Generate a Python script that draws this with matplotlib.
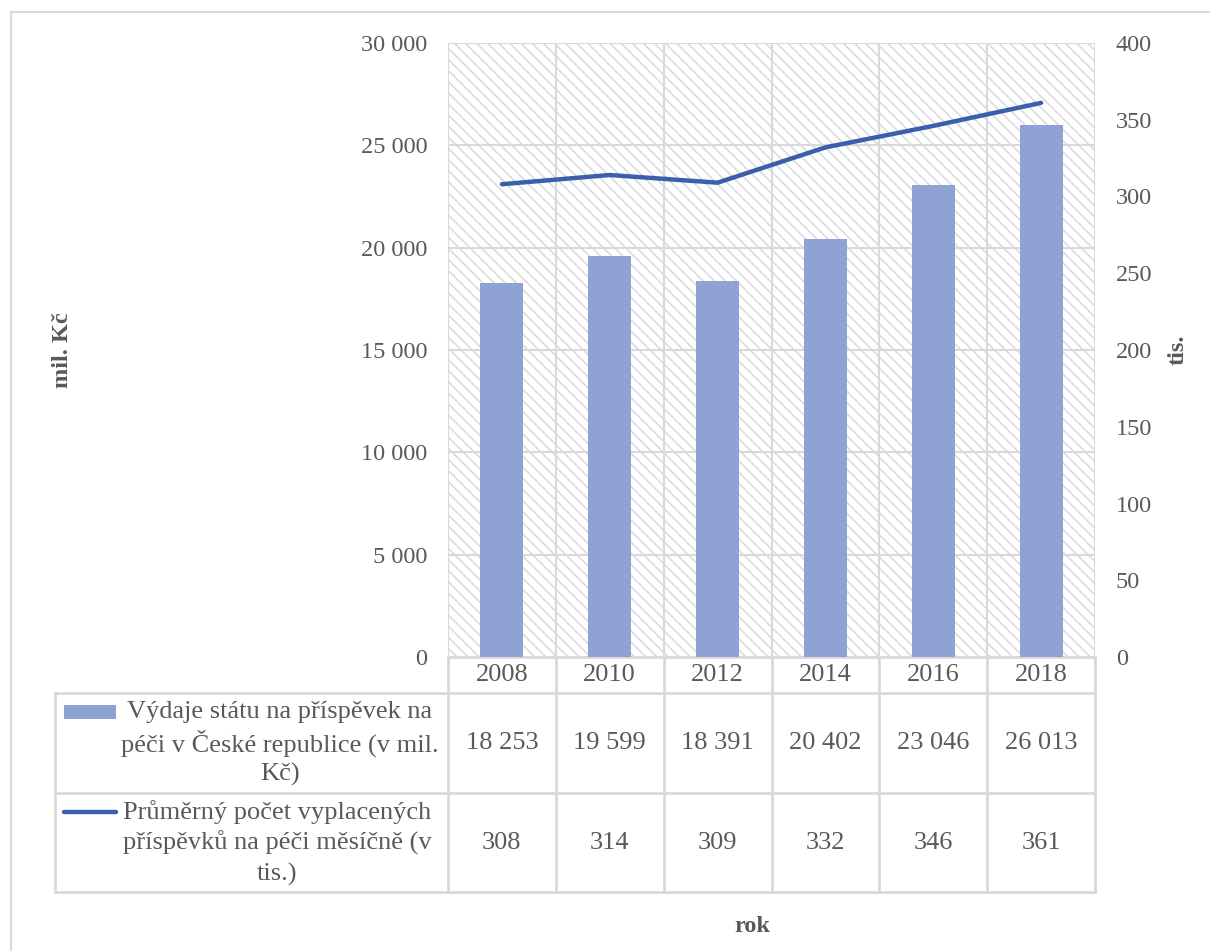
import matplotlib
matplotlib.use("Agg")
import matplotlib.pyplot as plt
from matplotlib.patches import Rectangle
from matplotlib.lines import Line2D
from matplotlib.ticker import FuncFormatter, MultipleLocator
import matplotlib.transforms as mtransforms

# ---- data ----
years = ["2008", "2010", "2012", "2014", "2016", "2018"]
spending = [18253, 19599, 18391, 20402, 23046, 26013]      # mil. Kč
recipients = [308, 314, 309, 332, 346, 361]                  # tis.
series_bar_label = ["Výdaje státu na příspěvek na",
                    "péči v České republice (v mil.",
                    "Kč)"]
series_line_label = ["Průměrný počet vyplacených",
                     "příspěvků na péči měsíčně (v",
                     "tis.)"]

# ---- style ----
plt.rcParams["font.family"] = ["Liberation Serif", "DejaVu Serif"]
plt.rcParams["hatch.linewidth"] = 1.1
TXT = "#595959"
GRID = "#d9d9d9"
HATCH = "#d9d9d9"
BAR = "#8ea2d4"
LINE = "#3c5fab"
FS = 17.5       # axis tick labels and titles
FS_TBL = 19     # data table text

W, H = 1210, 951
fig = plt.figure(figsize=(W / 100, H / 100), dpi=100)

# plot area in pixels
L, R, T, B = 448, 1095, 43, 657
ax = fig.add_axes([L / W, 1 - B / H, (R - L) / W, (B - T) / H])
ax2 = ax.twinx()

x = list(range(len(years)))
ax.set_xlim(-0.5, len(years) - 0.5)
ax.set_ylim(0, 30000)
ax2.set_ylim(0, 400)

# hatched background
bg = Rectangle((0, 0), 1, 1, transform=ax.transAxes, facecolor="white",
               edgecolor=HATCH, linewidth=0, hatch="\\\\\\", zorder=0)
ax.add_patch(bg)
ax.patch.set_visible(False)

# gridlines
ax.yaxis.set_major_locator(MultipleLocator(5000))
ax.set_xticks([i - 0.5 for i in range(len(years) + 1)], minor=True)
ax.set_xticks([])
ax.grid(True, which="major", axis="y", color=GRID, lw=1.5, zorder=1)
ax.grid(True, which="minor", axis="x", color=GRID, lw=1.5, zorder=1)
ax.set_axisbelow(True)

ax.bar(x, spending, width=0.4, color=BAR, zorder=3)
ax2.plot(x, recipients, color=LINE, lw=3.2, solid_capstyle="round", zorder=4)

for a in (ax, ax2):
    for s in a.spines.values():
        s.set_visible(False)
    a.tick_params(length=0, labelsize=FS, labelcolor=TXT, pad=15)
ax.tick_params(axis="x", which="both", length=0)
ax2.yaxis.set_major_locator(MultipleLocator(50))

ax.yaxis.set_major_formatter(FuncFormatter(lambda v, p: f"{int(v):,}".replace(",", " ")))
ax2.yaxis.set_major_formatter(FuncFormatter(lambda v, p: f"{int(v)}"))

# ---- data table below the plot ----
def ay(py):
    return (B - py) / (B - T)

def axx(px):
    return (px - L) / (R - L)

blend = mtransforms.blended_transform_factory(ax.transData, ax.transAxes)
y_head, y_r1, y_r2, y_end = ay(B), ay(693), ay(793), ay(892)
x_left = axx(55)

tbl = dict(color=GRID, lw=2, clip_on=False, zorder=2)
# column separators through the table
for i in range(len(years) + 1):
    ax.add_line(Line2D([i - 0.5, i - 0.5], [y_end, 0], transform=blend, **tbl))
# row separators
ax.add_line(Line2D([0, 1], [y_head, y_head], transform=ax.transAxes, **tbl))
for yy in (y_r1, y_r2, y_end):
    ax.add_line(Line2D([x_left, 1], [yy, yy], transform=ax.transAxes, **tbl))
ax.add_line(Line2D([x_left, x_left], [y_end, y_r1], transform=ax.transAxes, **tbl))

txt = dict(color=TXT, fontsize=FS_TBL, ha="center", va="center", clip_on=False)
for i, yr in enumerate(years):
    ax.text(i, ay(675), yr, transform=blend, **txt)
    ax.text(i, ay(743), f"{spending[i]:,}".replace(",", " "), transform=blend, **txt)
    ax.text(i, ay(843), f"{recipients[i]}", transform=blend, **txt)

for k, line in enumerate(series_bar_label):
    ax.text(axx(280), ay(712 + 31 * k), line, transform=ax.transAxes, **txt)
for k, line in enumerate(series_line_label):
    ax.text(axx(277), ay(812 + 31 * k), line, transform=ax.transAxes, **txt)

# legend keys
ax.add_patch(Rectangle((axx(64), ay(719)), axx(116) - axx(64), ay(705) - ay(719),
                       transform=ax.transAxes, facecolor=BAR, edgecolor="none",
                       clip_on=False))
ax.add_line(Line2D([axx(64), axx(116)], [ay(812), ay(812)], transform=ax.transAxes,
                   color=LINE, lw=3.2, solid_capstyle="round", clip_on=False))

# axis titles
fig.text(62 / W, 1 - 350 / H, "mil. Kč", rotation=90, ha="center", va="center",
         fontsize=FS, fontweight="bold", color=TXT)
fig.text(1178 / W, 1 - 350 / H, "tis.", rotation=90, ha="center", va="center",
         fontsize=FS, fontweight="bold", color=TXT)
fig.text(752 / W, 1 - 926 / H, "rok", ha="center", va="center",
         fontsize=FS, fontweight="bold", color=TXT)

# outer chart frame
fig.patches.append(Rectangle((11 / W, -0.05), 1.1, 1 - 12 / H + 0.05,
                             transform=fig.transFigure, fill=False,
                             edgecolor=GRID, lw=1.5))

fig.savefig("out.png", dpi=100)
